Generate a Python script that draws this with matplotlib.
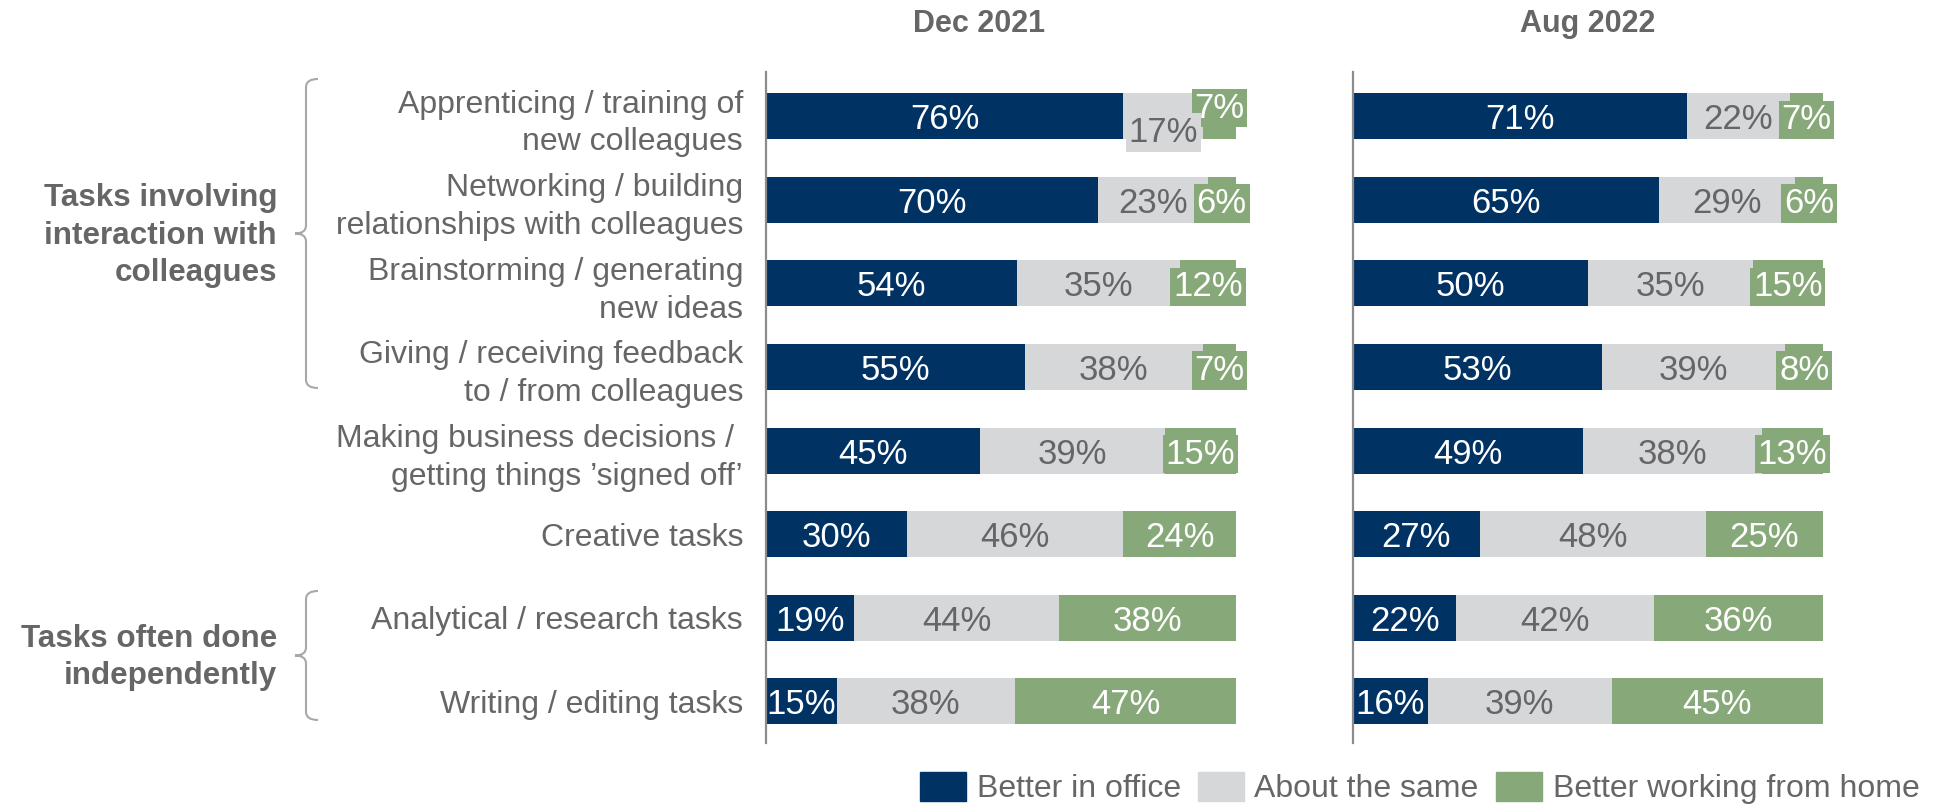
import numpy as np
import matplotlib
matplotlib.use("Agg")
import matplotlib.pyplot as plt
from matplotlib.patches import Patch, PathPatch
from matplotlib.path import Path

plt.rcParams['font.family'] = ['Liberation Sans', 'DejaVu Sans']

# data
tasks = [
    "Apprenticing / training of\nnew colleagues",
    "Networking / building\nrelationships with colleagues",
    "Brainstorming / generating\nnew ideas",
    "Giving / receiving feedback\nto / from colleagues",
    "Making business decisions / \ngetting things \u2019signed off\u2019",
    "Creative tasks",
    "Analytical / research tasks",
    "Writing / editing tasks",
]
periods = ["Dec 2021", "Aug 2022"]
series = ["Better in office", "About the same", "Better working from home"]

dec_office = [76, 70, 54, 55, 45, 30, 19, 15]
dec_same = [17, 23, 35, 38, 39, 46, 44, 38]
dec_home = [7, 6, 12, 7, 15, 24, 38, 47]

aug_office = [71, 65, 50, 53, 49, 27, 22, 16]
aug_same = [22, 29, 35, 39, 38, 48, 42, 39]
aug_home = [7, 6, 15, 8, 13, 25, 36, 45]

groups = ["Tasks involving\ninteraction with\ncolleagues", "Tasks often done\nindependently"]

colors = ['#003264', '#d6d7d9', '#87a878']
txt_gray = '#666666'
brace_gray = '#a8a8a8'

W, H = 1941, 806
fig = plt.figure(figsize=(W / 100, H / 100), dpi=100)


def fx(px):
    return px / W


def fy(py):
    return 1 - py / H


panel_left = [766, 1353]
panel_w = 470
top, bottom = 72, 743
panels = [[dec_office, dec_same, dec_home], [aug_office, aug_same, aug_home]]

for k, data in enumerate(panels):
    ax = fig.add_axes([fx(panel_left[k]), fy(bottom), panel_w / W, (bottom - top) / H])
    vals = np.array(data, dtype=float)
    shares = vals / vals.sum(axis=0) * 100
    y = np.arange(len(tasks))
    left = np.zeros(len(tasks))
    for j in range(3):
        ax.barh(y, shares[j], left=left, height=0.55, color=colors[j], zorder=1)
        for i in range(len(tasks)):
            dy = 0
            # the narrow gray/green pair gets staggered like in the original
            if shares[1][i] < 20 and shares[2][i] < 10:
                dy = 0.15 if j == 1 else (-0.14 if j == 2 else 0)
            kw = {}
            if j > 0:
                kw['bbox'] = dict(boxstyle='square,pad=0.08', fc=colors[j], ec='none')
            ax.text(left[i] + shares[j][i] / 2, y[i] + dy, f"{int(vals[j][i])}%",
                    ha='center', va='center_baseline', fontsize=25,
                    color=txt_gray if j == 1 else 'white',
                    zorder=4 if j == 1 else 3, **kw)
        left += shares[j]

    ax.set_xlim(0, 100)
    ax.set_ylim(7.5, -0.53)
    ax.set_yticks(y)
    if k == 0:
        ax.set_yticklabels(tasks, fontsize=23, color=txt_gray, linespacing=1.33)
    else:
        ax.set_yticklabels([])
    ax.tick_params(axis='y', length=0, pad=16.5)
    ax.set_xticks([])
    for s in ['top', 'right', 'bottom']:
        ax.spines[s].set_visible(False)
    ax.spines['left'].set_color('#8c8c8c')
    ax.spines['left'].set_linewidth(1.6)
    ax.patch.set_alpha(0)

# panel titles
fig.text(fx(979), fy(24), periods[0], ha='center', va='center', fontsize=22,
         fontweight='bold', color=txt_gray)
fig.text(fx(1588), fy(24), periods[1], ha='center', va='center', fontsize=22,
         fontweight='bold', color=txt_gray)

# group labels with braces
group_spans = [(79, 388), (591, 720)]
for label, (y0, y1) in zip(groups, group_spans):
    tip = (y0 + y1) / 2
    fig.text(fx(277), fy(tip + 2), label, ha='right', va='center', fontsize=22.6,
             fontweight='bold', color=txt_gray, linespacing=1.32)
    xl, xt, xh, r = 306, 295, 318, 8
    pts = [(xh, y0), (xl, y0), (xl, y0 + r), (xl, tip - r), (xl, tip), (xt, tip),
           (xl, tip), (xl, tip + r), (xl, y1 - r), (xl, y1), (xh, y1)]
    codes = [Path.MOVETO, Path.CURVE3, Path.CURVE3, Path.LINETO, Path.CURVE3, Path.CURVE3,
             Path.CURVE3, Path.CURVE3, Path.LINETO, Path.CURVE3, Path.CURVE3]
    path = Path([(fx(a), fy(b)) for a, b in pts], codes)
    fig.patches.append(PathPatch(path, transform=fig.transFigure, fill=False,
                                 ec=brace_gray, lw=1.5))

handles = [Patch(color=c) for c in colors]
fig.legend(handles, series, loc='center', bbox_to_anchor=(fx(1419.5), fy(788)),
           ncol=3, frameon=False, fontsize=23, handlelength=1.44, handleheight=1.03,
           handletextpad=0.34, columnspacing=0.53, borderpad=0, borderaxespad=0,
           labelcolor=txt_gray)

fig.savefig("out.png", dpi=100)
